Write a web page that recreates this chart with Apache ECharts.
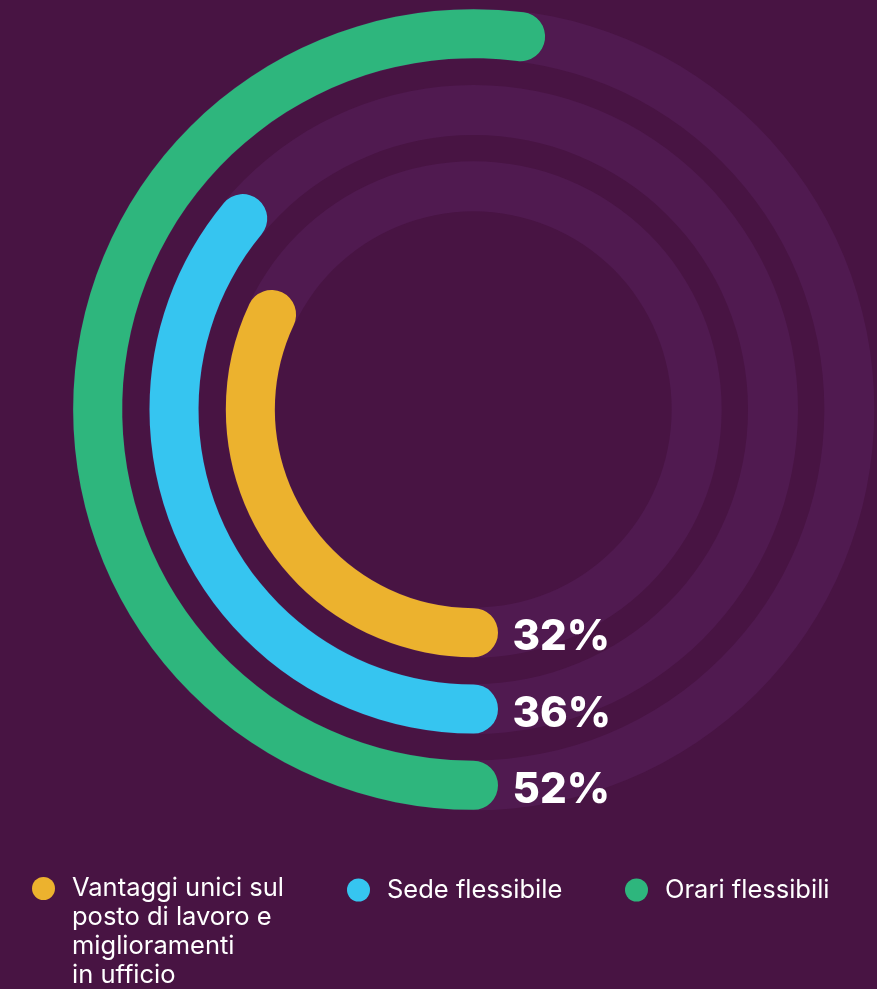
<!DOCTYPE html>
<html><head><meta charset="utf-8">
<script src="https://cdn.jsdelivr.net/npm/echarts@6/dist/echarts.min.js"></script>
<style>html,body{margin:0;padding:0;background:#481443;overflow:hidden}#c{width:877px;height:989px}</style>
</head><body><div id="c"></div>
<script>
const categories = ['Vantaggi unici sul posto di lavoro e miglioramenti in ufficio', 'Sede flessibile', 'Orari flessibili'];
const legendLabels = ['Vantaggi unici sul\nposto di lavoro e\nmiglioramenti\nin ufficio', 'Sede flessibile', 'Orari flessibili'];
const values = [32, 36, 52];
const valueLabels = ['32%', '36%', '52%'];
const trackValues = [100, 100, 100];
const angleMax = 100;
const colors = ['#ecb22e', '#36c5f0', '#2eb67d'];

const BG = '#481443';
const TRACK = '#501a50';
const chart = echarts.init(document.getElementById('c'), null, {renderer: 'canvas'});

const polarCfg = {center: [473.5, 409.5], radius: [185, 414]};
const angleCfg = {type: 'value', min: 0, max: angleMax, startAngle: -90, clockwise: true,
  show: false, axisLine: {show: false}, splitLine: {show: false}};
const radiusCfg = {type: 'category', data: categories, show: false,
  axisLine: {show: false}, axisTick: {show: false}, axisLabel: {show: false}};

const series = [{
  type: 'bar', coordinateSystem: 'polar', polarIndex: 1, name: '__track',
  data: trackValues, barWidth: 50,
  itemStyle: {color: TRACK}, silent: true, z: 1, legendHoverLink: false
}];
categories.forEach((c, i) => {
  series.push({
    type: 'bar', coordinateSystem: 'polar', polarIndex: 0, name: c, stack: 'rings',
    data: categories.map((_, j) => j === i ? values[i] : '-'),
    barWidth: 49, roundCap: true, z: 2,
    itemStyle: {color: colors[i]}
  });
});

const legendLeft = [32, 347, 625];
const legends = categories.map((c, i) => ({
  data: [c], left: legendLeft[i], top: i === 0 ? 787 : 875.5,
  orient: 'horizontal', icon: 'circle', itemWidth: 23, itemHeight: 23, padding: 0,
  formatter: () => (i === 0 ? '\n\n\n' : '') + legendLabels[i], selectedMode: false,
  textStyle: {color: '#ffffff', fontSize: 25.5, fontFamily: 'Inter', lineHeight: 29,
    padding: [0, 0, 0, 12]}
}));

chart.setOption({
  backgroundColor: BG,
  animation: false,
  polar: [Object.assign({}, polarCfg), Object.assign({}, polarCfg)],
  angleAxis: [Object.assign({polarIndex: 0}, angleCfg), Object.assign({polarIndex: 1}, angleCfg)],
  radiusAxis: [Object.assign({polarIndex: 0}, radiusCfg), Object.assign({polarIndex: 1}, radiusCfg)],
  legend: legends,
  series: series
});

const graphics = categories.map((c, i) => {
  const p = chart.convertToPixel({polarIndex: 0}, [i, 0]);
  return {type: 'text', x: p[0] + 39, y: p[1] + 5, z: 10,
    style: {text: valueLabels[i], fill: '#ffffff', fontFamily: 'Inter', fontWeight: 800,
      fontSize: 42, align: 'left', verticalAlign: 'middle'}};
});
chart.setOption({graphic: graphics});
</script></body></html>
